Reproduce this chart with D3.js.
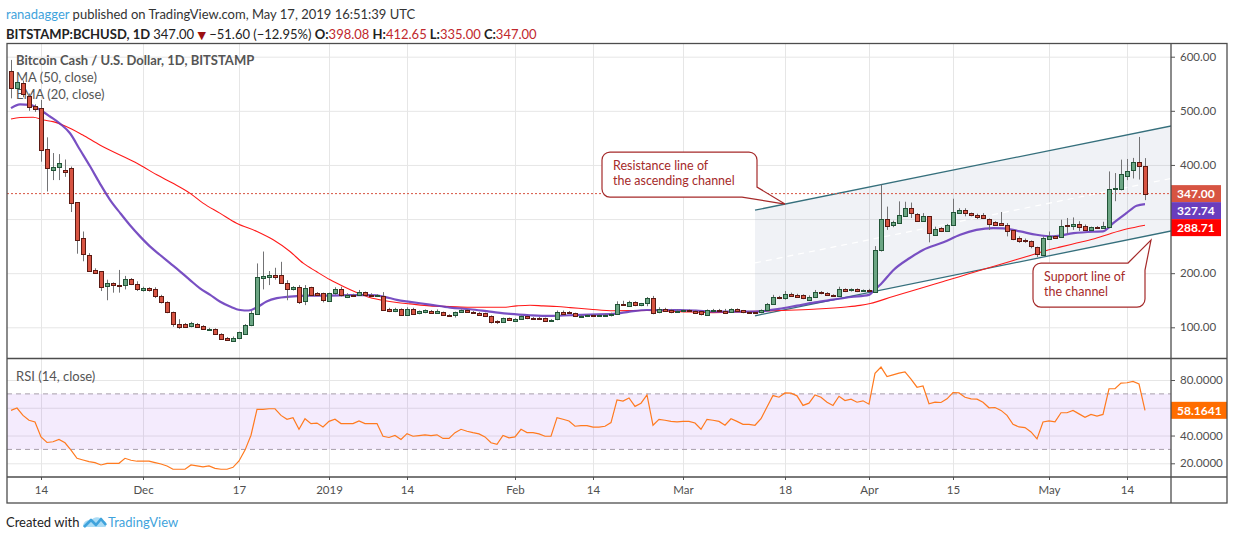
<!DOCTYPE html>
<html>
<head>
<meta charset="utf-8">
<script src="https://cdn.jsdelivr.net/npm/d3@7"></script>
<style>
  body { margin: 0; background: #fff; }
  svg text { font-family: Lato, "Liberation Sans", sans-serif; }
</style>
</head>
<body>
<svg id="chart" width="1234" height="540"></svg>
<script>
// ---- data ----
const firstDay = "2018-11-09"; // one bar per day from here
// [open, high, low, close]
const bars = [
  // Nov 9 - Nov 30
  [573, 594, 523, 542], [541, 556, 537, 553], [551, 556, 525, 530], [528, 532, 500, 508],
  [509, 512, 498, 503], [505, 520, 406, 428], [429, 451, 351, 394], [392, 422, 372, 397],
  [396, 420, 372, 403], [391, 410, 378, 388], [395, 397, 313, 330], [331, 331, 236, 260],
  [265, 277, 222, 236], [234, 237, 205, 205], [206, 209, 199, 201], [204, 204, 167, 174],
  [175, 188, 150, 181], [181, 183, 164, 178], [178.5, 206, 164, 177], [177, 195, 170, 189],
  [189, 191, 178, 180], [180, 185, 167, 170.5],
  // Dec
  [168, 175, 166, 172], [172, 174, 166, 169], [170, 174, 154, 157], [157, 160, 144, 146.6],
  [146.6, 148, 126, 128], [128, 129, 101, 106], [106.4, 115, 97, 101.5], [106, 108, 99, 100],
  [102, 110, 100, 107.6], [106.4, 108, 100, 101.5], [102.7, 104, 95, 96.7], [95, 99, 94, 97.5],
  [96.7, 98, 87, 88], [88, 89, 78, 79], [80.5, 82, 75, 76], [76, 83, 75, 81],
  [79.5, 92, 78, 90.5], [88, 106, 87, 104.5], [104, 130, 102, 126], [125, 218, 124, 192.6],
  [190, 240, 170, 194], [193, 204, 178, 196], [196, 210, 188, 193], [196, 221, 180, 181],
  [181, 187, 150, 170], [170, 176, 168, 174], [174, 178, 143, 146.3], [147.6, 178, 141, 172.2],
  [174, 175, 158, 158.7], [163.6, 165, 159, 160.5], [163, 164, 146, 149.4],
  // Jan
  [148.2, 164, 147, 163], [162.4, 174, 160, 170.4], [170.4, 175, 157, 158.7], [157, 163, 154, 160],
  [159.5, 162, 157, 159.3], [158.7, 169, 158, 164.8], [164.8, 166, 158, 158.7], [159, 163, 157, 158.5],
  [158.5, 161, 157, 159.5], [158.7, 165, 131, 132], [134, 136, 128, 129.7], [129.7, 136, 128, 134],
  [134, 135, 122, 123.5], [123.5, 137, 122, 134], [134, 136, 124, 125], [126, 131, 124, 129.7],
  [128, 133, 126, 131.5], [131, 132, 127, 128], [128, 133, 127, 131], [128.4, 129, 121, 122.3],
  [123, 124, 122, 122.5], [122.3, 129, 118, 128.4], [128, 133, 127, 132], [132.7, 134, 129, 129.7],
  [128.4, 130, 125, 126], [126.6, 128, 122, 123.5], [126, 127, 119, 120.4], [121, 122, 107, 110.5],
  [111.8, 113, 106, 109.3], [109.3, 118, 108, 116.7], [117.3, 118, 112, 113],
  // Feb
  [113, 117, 111, 116], [115, 122, 114, 121], [121, 122, 115, 116.7], [118, 119, 115, 116],
  [118, 119, 115, 116], [117.3, 118, 111, 112.4], [112.5, 115, 111, 113.5], [115, 131, 113, 128.4],
  [129, 131, 125, 126], [128, 130, 125, 126.5], [126, 127, 119, 120.4], [120, 123, 118, 121.6],
  [121.6, 124, 119, 122.5], [123, 124, 120, 121], [121, 124, 120, 122.5], [122.5, 125, 121, 123.5],
  [121.6, 127, 120, 124], [124, 148, 123, 143.2], [143.2, 149, 140, 140.8], [140, 149, 139, 147],
  [146, 148, 139, 140], [141, 145, 139, 144], [144, 156, 139, 153.7], [153.7, 158, 124, 125.4],
  [127.8, 137, 126, 134], [134, 136, 130, 131], [132, 134, 126, 129], [130, 133, 129, 131],
  // Mar
  [130, 133, 129, 132], [131.5, 133, 130, 131], [131, 132, 127, 128], [129.7, 130, 122, 123.5],
  [122.3, 133, 121, 132], [130, 134, 129, 132], [132, 134, 129, 130], [130, 134, 125, 127],
  [128, 135, 127, 134], [133.4, 135, 129, 129.7], [131.5, 132, 126, 127], [129, 130, 126, 127],
  [127.5, 129, 126, 127], [127.8, 133, 126, 132], [132, 145, 131, 143.2], [143.2, 160, 142, 155.6],
  [156.8, 158, 152, 154.4], [153.7, 167, 151, 161.7], [161.7, 164, 157, 158.7], [160, 162, 155, 156.8],
  [160, 161, 152, 153.7], [151.9, 159, 150, 156.8], [155.6, 169, 154, 165.5], [165.5, 167, 161, 163],
  [164.2, 165, 158, 161], [159.5, 161, 157, 159], [157.4, 175, 156, 171], [170.4, 172, 165, 166.7],
  [168, 172, 166, 170.4], [170.4, 172, 165, 166.7], [167, 170, 166, 168],
  // Apr
  [169, 171, 166, 168], [166, 250, 165, 243], [242, 363.5, 240, 300], [300, 323, 280, 286.4],
  [288.3, 297, 285, 294.5], [292.6, 332.7, 291, 306.8], [306, 332, 305, 320.3], [320.3, 330.5, 302, 311],
  [309, 311, 295, 295.7], [295.7, 311, 295, 305], [305, 305, 257, 272.9], [270.4, 286, 270, 281.5],
  [284, 285, 276, 277.8], [277.8, 291, 277, 289], [289, 337.6, 288, 313.6], [312.3, 320, 311, 317.3],
  [317.3, 320, 305, 311], [311, 312, 305, 306.8], [308, 310, 300, 305], [306.8, 311, 300, 301.2],
  [300.6, 301, 280, 290.7], [293.8, 296, 289, 289], [292.6, 313, 289, 289.5], [289, 292.6, 268, 278.4],
  [279.7, 280, 261, 263], [264.9, 268, 256, 259.3], [260.5, 264, 256, 258], [259.3, 260.5, 246, 249.4],
  [247.6, 249, 229.7, 234], [234, 268, 234, 264.9],
  // May
  [264.3, 277, 263, 269.2], [268.6, 270, 264, 265.5], [265.5, 298.8, 265, 286.4], [289, 302, 273, 287.7],
  [286.4, 303, 280, 290.7], [290.7, 296, 278, 285.2], [286.4, 290, 278, 279], [279, 286, 278, 285.2],
  [285.8, 287, 282, 283.4], [283.4, 295, 282, 287.7], [286.4, 388, 283, 356.1], [354.3, 385, 333, 357],
  [355.5, 409.8, 353, 383.2], [380.8, 411, 372, 389.4], [390, 413, 375, 405.4], [405.4, 451.7, 373, 398.6],
  [398.08, 412.65, 335.00, 347.00]
];

// indicator lines: [bar index, value]
const ema20 = [
  [0, 505], [1.5, 512], [3.2, 511], [4.8, 502], [6.5, 489.5], [8.2, 476], [9.8, 459], [11.5, 428],
  [13.2, 397], [14.8, 366], [16.5, 335.5], [18.2, 311], [19.8, 289], [21.5, 268], [23.2, 249],
  [24.8, 234], [26.5, 218.5], [28.2, 203], [29.8, 187.7], [31.5, 172], [33.2, 160], [34.8, 147.6],
  [36.5, 138.4], [38.2, 132], [39.6, 131], [41, 137], [42.6, 147.6], [44.3, 153.8], [46.5, 156.8],
  [49.8, 158.7], [53.2, 158.7], [56.5, 159.3], [59.8, 159.3], [62.1, 156.8], [64.3, 150.6],
  [66.5, 147], [69.8, 142], [73.2, 136.4], [76.5, 133.4], [79.8, 129], [83.2, 124.7], [86.5, 122.3],
  [89.8, 121], [93.2, 122.3], [96.5, 123.5], [100.4, 124.7], [103.1, 129], [106, 132], [108.7, 132],
  [111.5, 132], [114.2, 131], [117, 129], [119.8, 129], [122.6, 129], [125.4, 130], [128, 134],
  [131, 140], [134, 146], [137, 151], [140, 156], [143, 160], [144, 170], [145, 180], [147, 205],
  [149.8, 228], [152, 243], [155.4, 257], [158.2, 271], [160.9, 280], [163.7, 283.4], [165.4, 282.7],
  [168.2, 277.2], [170.9, 271], [173.7, 268], [177.1, 274], [180.4, 276.6], [182, 277.2],
  [183.7, 292.6], [185.9, 311], [187.6, 324.7], [189, 327.74]
];
const ma50 = [
  [0, 485], [1.5, 487.7], [3.7, 488], [5.4, 483], [7, 480], [9.2, 471], [11.9, 455.6], [14.8, 437],
  [18.7, 415.6], [21.5, 400], [24.3, 381.7], [27, 366], [29.8, 348], [32, 329.4], [34.8, 311],
  [37.6, 292.4], [41, 277], [43.7, 261.6], [46.5, 240], [48.7, 218.5], [50.9, 203], [53.2, 187.7],
  [55.4, 175.3], [57.6, 164.2], [59.8, 155], [62.1, 149.4], [64.3, 145.7], [66.5, 143.2],
  [69.8, 139.5], [73.2, 138.3], [76.5, 137], [79.8, 137], [82, 137], [84.3, 139.5], [86.5, 140.8],
  [88.7, 139.5], [91, 138.3], [93.2, 136.4], [96.5, 133.4], [100.4, 130.5], [106, 131], [111.5, 129],
  [117, 127.2], [122.6, 129], [128.1, 131], [133.7, 133.4], [139.2, 137.5], [141.5, 140.5],
  [143.2, 144], [147, 157], [149.8, 166.2], [152.6, 175.5], [155.4, 184.7], [158.2, 194],
  [160.9, 203.2], [163.7, 212.4], [166.5, 221.7], [169.3, 230.9], [172, 240.2], [174.8, 248.2],
  [177.6, 255.6], [180.4, 263], [183.2, 272.9], [185.9, 281.5], [189, 288.71]
];
// RSI(14), one value per bar
const rsi = [
  58.1, 59.8, 54.5, 51, 49.8, 39, 35, 35.5, 37.2, 34.8,
  29.5, 23.6, 22.4, 21.2, 20.5, 18.8, 20, 20, 20, 23.6,
  22.2, 21.5, 21.5, 21.5, 20.5, 19.5, 18.1, 15.7, 15.7, 15.7,
  18.8, 18.1, 17.4, 18.1, 16.4, 15.7, 15.7, 17.1, 21.7, 29.5,
  40.2, 58.8, 58.8, 59.3, 59.3, 54.5, 51.7, 52.9, 44.5, 52.1,
  48.6, 49, 46.2, 50.2, 51.7, 48.6, 48.6, 48.6, 50.5, 48.6,
  48.6, 48.6, 39.5, 38.6, 40, 37.2, 41.4, 39.5, 40, 40.5,
  40, 40.5, 37.9, 37.9, 42.1, 44.5, 43.1, 42.1, 41.2, 39,
  34.8, 33.6, 40, 38.3, 39, 44.5, 42.1, 42.1, 41.2, 39.5,
  39.5, 52.9, 51.7, 50.5, 46.7, 47.1, 47.1, 46, 46, 46.7,
  49.3, 65.7, 64.8, 67.1, 61, 63.3, 69.3, 47.4, 51.7, 51,
  50.2, 49.8, 50.2, 50.2, 49, 44.5, 51.7, 51, 50.2, 47.4,
  52.1, 50.2, 48.1, 48.1, 47.4, 52.1, 60.5, 68.8, 67.6, 70.7,
  70.5, 68.6, 61.7, 63.3, 69.3, 67.6, 64, 61.7, 68.3, 65.2,
  66.2, 64, 65, 62.6, 84.8, 89.3, 82.4, 83.7, 84.9, 85.9,
  80.7, 74.8, 75.7, 62.9, 64, 63.8, 66.4, 71, 70.7, 67.6,
  66.4, 66.2, 64, 60, 60.2, 58.1, 54.5, 48.1, 46.2, 45.7,
  42.6, 37.6, 49.8, 50.5, 49.8, 56.4, 56.4, 58.1, 55.6, 53.1,
  55.2, 54, 55.2, 73.7, 73.7, 77.8, 78, 79, 77.1, 58.1641
];

const priceGrid = [100, 200, 300, 400, 500, 600];
const priceLabels = [100, 200, 400, 500, 600]; // 300.00 sits under the value tags
const rsiGrid = [20, 40, 60, 80];
const rsiLabels = [20, 40, 80]; // 60.0000 sits under the RSI tag
const rsiBand = [30, 70];
const tickDates = ["2018-11-14", "2018-12-01", "2018-12-17", "2019-01-01", "2019-01-14", "2019-02-01",
  "2019-02-14", "2019-03-01", "2019-03-18", "2019-04-01", "2019-04-15", "2019-05-01", "2019-05-14"];
const tickLabels = ["14", "Dec", "17", "2019", "14", "Feb", "14", "Mar", "18", "Apr", "15", "May", "14"];

// ascending channel drawn on the chart: [date, price]
const resistance = [["2019-03-13", 316.5], ["2019-05-22", 473.5]];
const support = [["2019-03-13", 121.3], ["2019-05-22", 279.5]];
const notes = [
  { lines: ["Resistance line of", "the ascending channel"], on: "resistance", date: "2019-03-18" },
  { lines: ["Support line of", "the channel"], on: "support", date: "2019-05-18" }
];

// ---- layout ----
const L = 7, R = 1171, OUTR = 1227;
const mainTop = 43.5, mainBot = 358.5, rsiBot = 477, axisBot = 503;

const parse = d3.utcParse("%Y-%m-%d");
const day0 = parse(firstDay);
const atIndex = (i) => new Date(day0.getTime() + i * 864e5);

const x = d3.scaleUtc()
  .domain([parse("2018-12-01"), parse("2019-05-17")])
  .range([143, 1145]);
const y = d3.scaleLinear().domain([100, 600]).range([327.3, 56.7]);
const yR = d3.scaleLinear().domain([20, 80]).range([463.3, 380]);

const upFill = "#6ba583", upLine = "#225437", dnFill = "#d75442", dnLine = "#5b1a13";
const gridCol = "#e6e6e6", frameCol = "#4d4d4d", axisText = "#4f4f4f";

const svg = d3.select("#chart");
const defs = svg.append("defs");
defs.append("clipPath").attr("id", "clipMain").append("rect")
  .attr("x", L).attr("y", mainTop).attr("width", R - L).attr("height", mainBot - mainTop);
defs.append("clipPath").attr("id", "clipRsi").append("rect")
  .attr("x", L).attr("y", mainBot).attr("width", R - L).attr("height", rsiBot - mainBot);

// ---- header ----
const last = bars[bars.length - 1];
const prevClose = bars[bars.length - 2][3];
const chg = last[3] - prevClose;
const fmt2 = d3.format(".2f");
const minus = (v) => (v < 0 ? "\u2212" : "") + fmt2(Math.abs(v));

svg.append("text").attr("x", 6).attr("y", 19).attr("font-size", 13)
  .call((t) => {
    t.append("tspan").attr("fill", "#3fa3dc").text("ranadagger");
    t.append("tspan").attr("fill", "#333").text(" published on TradingView.com, May 17, 2019 16:51:39 UTC");
  });

const hdr = svg.append("text").attr("x", 6).attr("y", 39).attr("font-size", 13).attr("fill", "#222");
hdr.append("tspan").attr("font-weight", "bold").text("BITSTAMP:BCHUSD, 1D ");
hdr.append("tspan").text(" " + fmt2(last[3]) + " ");
hdr.append("tspan").attr("fill", "#9c1010").attr("font-family", "DejaVu Sans").attr("font-size", 11).text("\u25BC");
hdr.append("tspan").text(" " + minus(chg) + " (" + minus((chg / prevClose) * 100) + "%) ");
[["O:", last[0]], ["H:", last[1]], ["L:", last[2]], ["C:", last[3]]].forEach(([k, v], i) => {
  hdr.append("tspan").attr("font-weight", "bold").text((i ? " " : "") + k);
  hdr.append("tspan").attr("fill", "#c0282d").text(fmt2(v));
});

// ---- grids ----
const tickDateObjs = tickDates.map(parse);

svg.append("g").attr("transform", `translate(${L},0)`)
  .call(d3.axisLeft(y).tickValues(priceGrid).tickSize(-(R - L)).tickFormat(""))
  .call((g) => g.select(".domain").remove())
  .selectAll("line").attr("stroke", gridCol);

svg.append("g").attr("transform", `translate(${L},0)`)
  .call(d3.axisLeft(yR).tickValues(rsiGrid).tickSize(-(R - L)).tickFormat(""))
  .call((g) => g.select(".domain").remove())
  .selectAll("line").attr("stroke", gridCol);

[[mainTop, mainBot], [mainBot, rsiBot]].forEach(([t, b]) => {
  svg.append("g").attr("transform", `translate(0,${b})`)
    .call(d3.axisBottom(x).tickValues(tickDateObjs).tickSize(-(b - t)).tickFormat(""))
    .call((g) => g.select(".domain").remove())
    .selectAll("line").attr("stroke", gridCol);
});

// ---- main pane ----
const main = svg.append("g").attr("clip-path", "url(#clipMain)");

// channel
const chanPt = (p) => [x(parse(p[0])), y(p[1])];
const rA = resistance.map(chanPt), sA = support.map(chanPt);
main.append("path")
  .attr("d", `M${rA[0]}L${rA[1]}L${sA[1]}L${sA[0]}Z`)
  .attr("fill", "rgba(150,165,190,0.14)");
main.append("line")
  .attr("x1", rA[0][0]).attr("y1", (rA[0][1] + sA[0][1]) / 2)
  .attr("x2", rA[1][0]).attr("y2", (rA[1][1] + sA[1][1]) / 2)
  .attr("stroke", "#fff").attr("stroke-width", 1.2).attr("stroke-dasharray", "6,5");
[rA, sA].forEach((a) => {
  main.append("line")
    .attr("x1", a[0][0]).attr("y1", a[0][1]).attr("x2", a[1][0]).attr("y2", a[1][1])
    .attr("stroke", "#356f7c").attr("stroke-width", 1.3);
});

// legend (sits under the bars)
const legend = svg.insert("g", "g[clip-path]").attr("fill", "#555").attr("font-size", 13);
legend.append("text").attr("x", 16).attr("y", 65).attr("font-weight", "bold")
  .text("Bitcoin Cash / U.S. Dollar, 1D, BITSTAMP");
legend.append("text").attr("x", 16).attr("y", 82).text("MA (50, close)");
legend.append("text").attr("x", 16).attr("y", 99).text("EMA (20, close)");

// last price dotted line
main.append("line")
  .attr("x1", L).attr("x2", R).attr("y1", y(last[3])).attr("y2", y(last[3]))
  .attr("stroke", dnFill).attr("stroke-dasharray", "2,2");

// moving averages
const lineOf = (pts) => d3.line()
  .x((d) => x(atIndex(d[0])))
  .y((d) => y(d[1]))
  .curve(d3.curveMonotoneX)(pts);
main.append("path").attr("d", lineOf(ma50))
  .attr("fill", "none").attr("stroke", "#ff1a1a").attr("stroke-width", 1.1);
main.append("path").attr("d", lineOf(ema20))
  .attr("fill", "none").attr("stroke", "#6a3dbd").attr("stroke-width", 2.2).attr("stroke-opacity", 0.9);

// candles
const candles = bars.map((b, i) => ({ date: atIndex(i), o: b[0], h: b[1], l: b[2], c: b[3] }));
const cx = (d) => Math.round(x(d.date)) + 0.5;
main.selectAll("line.wick").data(candles).join("line").attr("class", "wick")
  .attr("x1", cx).attr("x2", cx)
  .attr("y1", (d) => y(d.h)).attr("y2", (d) => y(d.l))
  .attr("stroke", "#737375");
main.selectAll("rect.body").data(candles).join("rect").attr("class", "body")
  .attr("x", (d) => cx(d) - 2).attr("width", 4)
  .attr("y", (d) => Math.round(y(Math.max(d.o, d.c))) + 0.5)
  .attr("height", (d) => Math.max(1, Math.round(Math.abs(y(d.o) - y(d.c)))))
  .attr("fill", (d) => (d.c >= d.o ? upFill : dnFill))
  .attr("stroke", (d) => (d.c >= d.o ? upLine : dnLine));

// callouts
const onLine = (pts, date) => {
  const t = parse(date);
  const [a, b] = pts.map((p) => [parse(p[0]), p[1]]);
  const k = (t - a[0]) / (b[0] - a[0]);
  return [x(t), y(a[1] + k * (b[1] - a[1]))];
};
const noteCol = "#a52a2a";
notes.forEach((n) => {
  const tip = onLine(n.on === "resistance" ? resistance : support, n.date);
  const r = 8;
  let box, d;
  if (n.on === "resistance") {
    box = { x0: tip[0] - 183, y0: tip[1] - 52, w: 155, h: 45 };
    const x1 = box.x0 + box.w, y1 = box.y0 + box.h;
    d = `M${box.x0 + r},${box.y0}H${x1 - r}A${r},${r} 0 0 1 ${x1},${box.y0 + r}V${y1 - 10}` +
      `L${tip[0]},${tip[1]}L${x1 - 15},${y1}H${box.x0 + r}A${r},${r} 0 0 1 ${box.x0},${y1 - r}` +
      `V${box.y0 + r}A${r},${r} 0 0 1 ${box.x0 + r},${box.y0}Z`;
  } else {
    tip[1] += 5;
    box = { x0: tip[0] - 118, y0: tip[1] + 23, w: 112, h: 44 };
    const x1 = box.x0 + box.w, y1 = box.y0 + box.h;
    d = `M${box.x0 + r},${box.y0}H${x1 - 17}L${tip[0]},${tip[1]}L${x1},${box.y0 + 7}` +
      `V${y1 - r}A${r},${r} 0 0 1 ${x1 - r},${y1}H${box.x0 + r}A${r},${r} 0 0 1 ${box.x0},${y1 - r}` +
      `V${box.y0 + r}A${r},${r} 0 0 1 ${box.x0 + r},${box.y0}Z`;
  }
  svg.append("path").attr("d", d).attr("fill", "#fff").attr("stroke", noteCol).attr("stroke-width", 1.2);
  n.lines.forEach((s, i) => {
    svg.append("text").attr("x", box.x0 + 11).attr("y", box.y0 + 18 + i * 15)
      .attr("font-size", 12.5).attr("fill", noteCol).text(s);
  });
});

// ---- RSI pane ----
const rsiG = svg.append("g").attr("clip-path", "url(#clipRsi)");
rsiG.append("rect").attr("x", L).attr("width", R - L)
  .attr("y", yR(rsiBand[1])).attr("height", yR(rsiBand[0]) - yR(rsiBand[1]))
  .attr("fill", "rgba(150,60,240,0.1)");
rsiBand.forEach((v) => {
  rsiG.append("line").attr("x1", L).attr("x2", R).attr("y1", yR(v)).attr("y2", yR(v))
    .attr("stroke", "#a89fab").attr("stroke-dasharray", "5,4");
});
rsiG.append("path")
  .attr("d", d3.line().x((d, i) => x(atIndex(i))).y((d) => yR(d))(rsi))
  .attr("fill", "none").attr("stroke", "#ff7a1f").attr("stroke-width", 1.2);
svg.append("text").attr("x", 16).attr("y", 381).attr("font-size", 13).attr("fill", "#555")
  .text("RSI (14, close)");

// ---- axes ----
const priceAxis = svg.append("g").attr("transform", `translate(${R},0)`)
  .call(d3.axisRight(y).tickValues(priceLabels).tickSize(4).tickPadding(5).tickFormat(fmt2));
const rsiAxis = svg.append("g").attr("transform", `translate(${R},0)`)
  .call(d3.axisRight(yR).tickValues(rsiLabels).tickSize(4).tickPadding(5).tickFormat(d3.format(".4f")));
const timeAxis = svg.append("g").attr("transform", `translate(0,${rsiBot})`)
  .call(d3.axisBottom(x).tickValues(tickDateObjs).tickSize(3).tickPadding(6)
    .tickFormat((d, i) => tickLabels[i]));
[priceAxis, rsiAxis, timeAxis].forEach((g) => {
  g.select(".domain").remove();
  g.selectAll("line").attr("stroke", "#555");
  g.selectAll("text").attr("fill", axisText).attr("font-size", 11.5)
    .attr("font-family", "Lato, 'Liberation Sans', sans-serif");
});

// last value tags, pushed apart so they do not overlap
const tags = [
  { v: last[3], fill: dnFill, text: fmt2(last[3]) },
  { v: ema20[ema20.length - 1][1], fill: "#6a3dbd", text: fmt2(ema20[ema20.length - 1][1]) },
  { v: ma50[ma50.length - 1][1], fill: "#ff0000", text: fmt2(ma50[ma50.length - 1][1]) }
];
let prevY = -Infinity;
tags.forEach((t) => {
  const cy = Math.max(y(t.v), prevY + 17);
  prevY = cy;
  svg.append("rect").attr("x", R).attr("y", cy - 8.5).attr("width", 50).attr("height", 17).attr("fill", t.fill);
  svg.append("text").attr("x", R + 6).attr("y", cy + 4.5).attr("font-size", 12).attr("font-weight", "bold")
    .attr("fill", "#fff").text(t.text);
});
const rsiLast = rsi[rsi.length - 1];
svg.append("rect").attr("x", R).attr("y", yR(rsiLast) - 8.5).attr("width", 56).attr("height", 17).attr("fill", "#ff6d00");
svg.append("text").attr("x", R + 6).attr("y", yR(rsiLast) + 4.5).attr("font-size", 12).attr("font-weight", "bold")
  .attr("fill", "#fff").text(d3.format(".4f")(rsiLast));

// ---- frame ----
const frame = svg.append("g").attr("stroke", frameCol).attr("stroke-width", 1.3).attr("fill", "none");
frame.append("rect").attr("x", L).attr("y", mainTop).attr("width", OUTR - L).attr("height", axisBot - mainTop);
frame.append("line").attr("x1", R).attr("x2", R).attr("y1", mainTop).attr("y2", axisBot);
frame.append("line").attr("x1", L).attr("x2", OUTR).attr("y1", mainBot).attr("y2", mainBot);
frame.append("line").attr("x1", L).attr("x2", OUTR).attr("y1", rsiBot).attr("y2", rsiBot);

// ---- footer ----
svg.append("text").attr("x", 6).attr("y", 527).attr("font-size", 13).attr("fill", "#222").text("Created with");
const logo = svg.append("g").attr("transform", "translate(82,515)");
logo.append("path")
  .attr("d", "M1,12 C1,6 6,4 9,6 C11,1 19,1 21,6 C25,5 25,12 23,12 Z")
  .attr("fill", "#a9dbf5");
logo.append("path")
  .attr("d", "M2,12 L9,5 L14,10 L19,4 L24,10")
  .attr("fill", "none").attr("stroke", "#3fa3dc").attr("stroke-width", 2.6).attr("stroke-linejoin", "round");
svg.append("text").attr("x", 108).attr("y", 527).attr("font-size", 13).attr("fill", "#3fa3dc").text("TradingView");
</script>
</body>
</html>
